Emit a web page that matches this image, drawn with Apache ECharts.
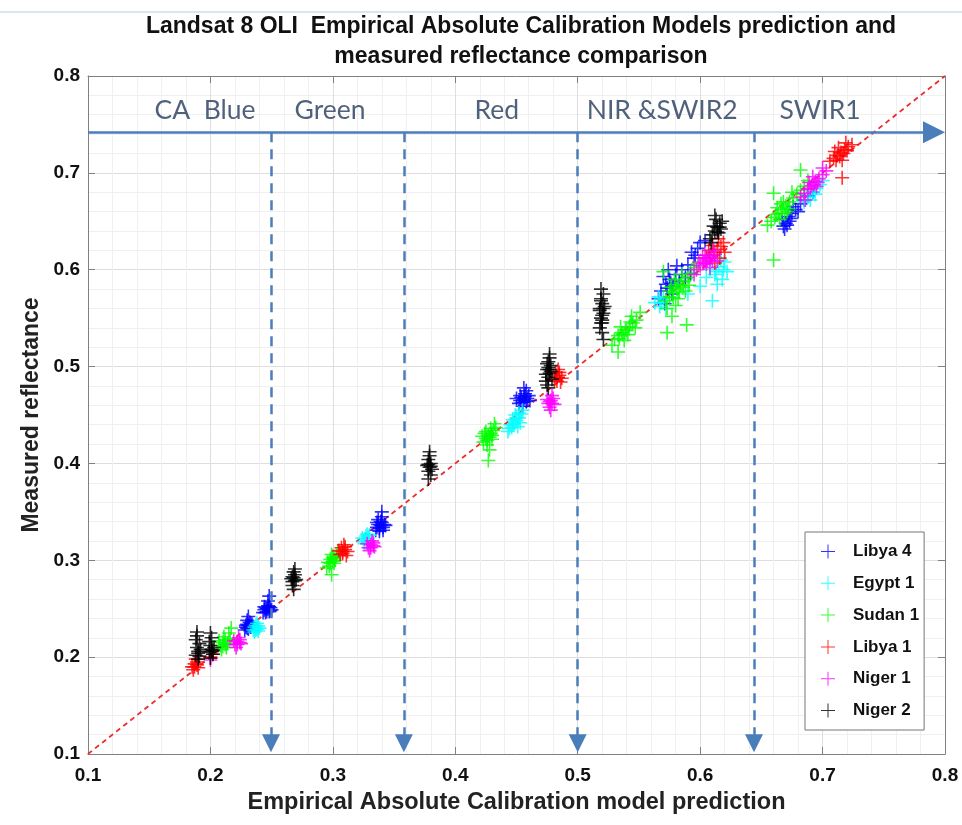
<!DOCTYPE html>
<html>
<head>
<meta charset="utf-8">
<script src="https://cdn.jsdelivr.net/npm/echarts@6/dist/echarts.min.js"></script>
<style>
html, body { margin: 0; padding: 0; background: #fff; }
#chart { width: 962px; height: 825px; }
</style>
</head>
<body>
<div id="chart"></div>
<script>
// Site names and marker colours, in drawing order
const siteNames = ['Libya 4', 'Egypt 1', 'Sudan 1', 'Libya 1', 'Niger 1', 'Niger 2'];
const siteColors = ['#0000FF', '#00FFFF', '#00FF00', '#FF0000', '#FF00FF', '#000000'];

// [model prediction, measured reflectance] pairs per site
const libya4 = [
  [0.228,0.228],[0.229,0.231],[0.230,0.234],[0.231,0.229],[0.232,0.232],[0.233,0.235],[0.230,0.230],[0.231,0.233],[0.232,0.236],[0.229,0.233],[0.233,0.231],[0.234,0.234],[0.230,0.238],[0.231,0.242],
  [0.243,0.246],[0.244,0.249],[0.245,0.251],[0.246,0.247],[0.247,0.250],[0.248,0.252],[0.249,0.248],[0.245,0.246],[0.246,0.250],[0.247,0.253],[0.248,0.247],[0.249,0.251],[0.244,0.252],[0.247,0.258],[0.248,0.263],[0.250,0.249],
  [0.335,0.331],[0.336,0.334],[0.337,0.337],[0.338,0.333],[0.339,0.336],[0.340,0.339],[0.341,0.334],[0.342,0.337],[0.336,0.339],[0.338,0.330],[0.339,0.340],[0.341,0.331],[0.343,0.336],[0.337,0.342],[0.340,0.345],[0.340,0.350],
  [0.452,0.462],[0.453,0.465],[0.454,0.468],[0.455,0.463],[0.456,0.466],[0.457,0.469],[0.458,0.464],[0.459,0.467],[0.460,0.470],[0.455,0.459],[0.457,0.472],[0.461,0.465],[0.453,0.470],[0.458,0.475],[0.456,0.478],[0.450,0.467],
  [0.568,0.578],[0.572,0.585],[0.575,0.590],[0.570,0.593],[0.578,0.583],[0.580,0.595],[0.574,0.600],[0.566,0.570],[0.583,0.588],[0.577,0.575],[0.573,0.581],[0.576,0.586],
  [0.585,0.600],[0.590,0.605],[0.595,0.612],[0.598,0.622],[0.592,0.596],[0.588,0.592],[0.600,0.628],[0.571,0.565],[0.581,0.604],[0.596,0.615],[0.593,0.618],[0.604,0.630],
  [0.667,0.652],[0.670,0.648],[0.672,0.655],[0.668,0.645],[0.675,0.658],[0.673,0.650],[0.678,0.662],[0.682,0.668],[0.685,0.672],[0.680,0.660],[0.688,0.676],[0.692,0.680],[0.669,0.642],[0.676,0.665],[0.671,0.646],[0.674,0.653]
];
const egypt1 = [
  [0.235,0.228],[0.236,0.231],[0.237,0.233],[0.238,0.229],[0.239,0.232],[0.240,0.230],[0.236,0.226],[0.238,0.235],[0.237,0.228],[0.239,0.227],
  [0.325,0.319],[0.326,0.322],[0.327,0.325],[0.328,0.320],[0.329,0.323],[0.330,0.326],[0.326,0.317],[0.328,0.327],[0.324,0.323],[0.329,0.318],
  [0.443,0.433],[0.446,0.437],[0.448,0.441],[0.450,0.444],[0.452,0.447],[0.454,0.451],[0.447,0.445],[0.451,0.438],[0.455,0.455],[0.445,0.440],
  [0.449,0.450],[0.453,0.442],[0.444,0.436],[0.447,0.440],[0.450,0.447],[0.452,0.452],
  [0.563,0.566],[0.567,0.562],[0.570,0.570],[0.566,0.572],[0.572,0.560],[0.608,0.600],[0.612,0.595],[0.615,0.603],[0.618,0.590],[0.620,0.608],
  [0.614,0.585],[0.610,0.568],[0.622,0.598],[0.605,0.592],[0.590,0.575],[0.617,0.610],[0.600,0.583],[0.613,0.598],[0.619,0.600],[0.568,0.566],
  [0.688,0.675],[0.692,0.680],[0.695,0.684],[0.698,0.688],[0.690,0.672],[0.700,0.692],[0.685,0.670],[0.694,0.678]
];
const sudan1 = [
  [0.208,0.212],[0.210,0.215],[0.212,0.218],[0.209,0.208],[0.214,0.214],[0.211,0.221],[0.215,0.225],[0.217,0.230],[0.207,0.217],[0.213,0.210],[0.216,0.219],[0.210,0.211],[0.212,0.213],
  [0.296,0.298],[0.298,0.301],[0.300,0.303],[0.297,0.294],[0.301,0.297],[0.303,0.305],[0.299,0.306],[0.295,0.292],[0.302,0.300],[0.299,0.285],[0.304,0.309],[0.298,0.297],[0.300,0.299],[0.301,0.302],
  [0.423,0.422],[0.425,0.426],[0.427,0.429],[0.429,0.431],[0.431,0.434],[0.426,0.419],[0.430,0.425],[0.433,0.437],[0.424,0.431],[0.428,0.414],[0.427,0.403],[0.432,0.441],[0.422,0.428],[0.429,0.436],
  [0.426,0.424],[0.428,0.427],[0.430,0.429],[0.425,0.433],
  [0.530,0.528],[0.533,0.532],[0.536,0.535],[0.539,0.538],[0.542,0.541],[0.545,0.545],[0.548,0.548],[0.535,0.541],[0.541,0.533],[0.528,0.522],[0.544,0.552],[0.538,0.527],[0.551,0.556],[0.533,0.515],[0.547,0.540],
  [0.534,0.529],[0.537,0.533],[0.540,0.537],[0.543,0.546],
  [0.572,0.568],[0.575,0.572],[0.578,0.576],[0.581,0.580],[0.584,0.584],[0.587,0.588],[0.590,0.592],[0.593,0.596],[0.576,0.582],[0.582,0.570],[0.588,0.578],
  [0.579,0.590],[0.585,0.595],[0.595,0.602],[0.573,0.560],[0.570,0.598],[0.573,0.535],[0.589,0.543],[0.577,0.552],[0.580,0.563],[0.591,0.584],[0.598,0.606],
  [0.578,0.571],[0.583,0.577],[0.586,0.582],[0.580,0.585],[0.575,0.578],
  [0.658,0.650],[0.661,0.654],[0.664,0.658],[0.667,0.662],[0.670,0.666],[0.673,0.670],[0.676,0.674],[0.679,0.678],[0.682,0.682],[0.685,0.686],
  [0.663,0.664],[0.669,0.658],[0.675,0.680],[0.672,0.663],[0.660,0.679],[0.682,0.703],[0.660,0.610],[0.666,0.668],[0.688,0.692],[0.655,0.646],
  [0.662,0.657],[0.665,0.652],[0.668,0.670],[0.671,0.660]
];
const libya1 = [
  [0.185,0.190],[0.187,0.193],[0.189,0.195],[0.186,0.187],[0.190,0.189],[0.188,0.198],[0.187,0.190],[0.189,0.192],[0.200,0.200],[0.202,0.203],
  [0.306,0.306],[0.308,0.309],[0.310,0.311],[0.307,0.313],[0.311,0.305],[0.309,0.316],[0.312,0.309],[0.305,0.310],[0.308,0.307],[0.310,0.314],
  [0.481,0.486],[0.483,0.489],[0.485,0.491],[0.482,0.494],[0.486,0.484],[0.484,0.497],[0.487,0.488],[0.483,0.485],[0.485,0.494],
  [0.605,0.612],[0.608,0.615],[0.611,0.618],[0.614,0.621],[0.617,0.624],[0.610,0.625],[0.616,0.612],[0.619,0.628],[0.612,0.607],[0.620,0.618],[0.607,0.620],[0.615,0.632],
  [0.706,0.712],[0.709,0.715],[0.712,0.718],[0.715,0.721],[0.718,0.724],[0.721,0.727],[0.710,0.722],[0.716,0.713],[0.719,0.731],[0.713,0.726],[0.724,0.729],[0.716,0.695],
  [0.711,0.713],[0.714,0.717],[0.717,0.720],[0.720,0.723]
];
const niger1 = [
  [0.220,0.213],[0.222,0.216],[0.224,0.218],[0.221,0.210],[0.225,0.214],[0.223,0.220],[0.219,0.217],[0.222,0.213],[0.224,0.215],[0.200,0.197],
  [0.329,0.313],[0.331,0.316],[0.333,0.318],[0.330,0.310],[0.334,0.314],[0.332,0.320],[0.328,0.317],[0.331,0.313],[0.333,0.315],
  [0.476,0.462],[0.478,0.465],[0.480,0.467],[0.477,0.458],[0.481,0.461],[0.479,0.470],[0.475,0.466],[0.478,0.455],[0.477,0.464],[0.479,0.462],
  [0.597,0.600],[0.600,0.604],[0.603,0.607],[0.606,0.610],[0.609,0.613],[0.612,0.616],[0.602,0.612],[0.608,0.602],[0.595,0.595],[0.611,0.620],[0.604,0.615],[0.599,0.608],[0.614,0.609],
  [0.605,0.606],[0.607,0.612],[0.610,0.609],
  [0.682,0.675],[0.685,0.679],[0.688,0.683],[0.691,0.687],[0.694,0.691],[0.697,0.694],[0.700,0.698],[0.703,0.702],[0.689,0.690],[0.695,0.686],[0.700,0.705],[0.686,0.672],[0.692,0.696],
  [0.690,0.684],[0.693,0.688],[0.696,0.690]
];
const niger2 = [
  [0.188,0.202],[0.190,0.206],[0.189,0.210],[0.191,0.214],[0.188,0.218],[0.190,0.198],[0.192,0.208],[0.189,0.222],[0.190,0.204],[0.191,0.201],[0.189,0.226],
  [0.199,0.205],[0.201,0.208],[0.200,0.212],[0.202,0.203],[0.199,0.216],[0.201,0.220],[0.203,0.210],[0.200,0.199],[0.201,0.206],[0.202,0.207],[0.200,0.225],
  [0.267,0.278],[0.268,0.282],[0.269,0.285],[0.266,0.281],[0.270,0.280],[0.268,0.288],[0.267,0.274],[0.269,0.291],[0.268,0.270],[0.267,0.283],[0.269,0.279],
  [0.378,0.392],[0.379,0.396],[0.380,0.400],[0.378,0.404],[0.381,0.394],[0.377,0.398],[0.379,0.408],[0.380,0.388],[0.379,0.412],[0.378,0.384],[0.380,0.397],[0.378,0.399],
  [0.474,0.485],[0.476,0.489],[0.477,0.493],[0.475,0.497],[0.478,0.501],[0.476,0.505],[0.477,0.509],[0.475,0.481],[0.478,0.495],[0.476,0.499],[0.474,0.492],[0.477,0.513],[0.479,0.487],[0.476,0.478],[0.477,0.497],[0.475,0.503],
  [0.518,0.540],[0.520,0.545],[0.519,0.550],[0.521,0.555],[0.518,0.560],[0.520,0.565],[0.519,0.570],[0.521,0.575],[0.520,0.548],[0.518,0.558],[0.522,0.562],[0.519,0.580],[0.520,0.535],[0.521,0.528],[0.519,0.568],
  [0.520,0.553],[0.521,0.560],[0.519,0.545],
  [0.608,0.632],[0.610,0.636],[0.612,0.640],[0.614,0.644],[0.616,0.648],[0.613,0.652],[0.615,0.638],[0.611,0.645],[0.617,0.642],[0.612,0.656],[0.609,0.628],[0.618,0.650],
  [0.614,0.639],[0.616,0.644]
];
const siteData = [libya4, egypt1, sudan1, libya1, niger1, niger2];

// 1:1 reference line
const oneToOne = [[0.1, 0.1], [0.8, 0.8]];

// Spectral band regions along the 1:1 line
const bandNames = ['CA  Blue', 'Green', 'Red', 'NIR &SWIR2', 'SWIR1'];
const bandLabelX = [0.1956, 0.2977, 0.434, 0.569, 0.698];
const bandLabelY = 0.764;
const bandEdges = [0.2495, 0.358, 0.5, 0.644];
const bandArrowY = 0.742;
const bandArrowBottom = 0.111;
const bandArrowStart = 0.1;
const bandArrowEnd = 0.791;

// Axis ticks
const axisTicks = ['0.1', '0.2', '0.3', '0.4', '0.5', '0.6', '0.7', '0.8'];

const PLUS = 'path://M-0.8,-7H0.8V-0.8H7V0.8H0.8V7H-0.8V0.8H-7V-0.8H-0.8Z';
const PLUS_THIN = 'path://M-0.5,-7H0.5V-0.5H7V0.5H0.5V7H-0.5V0.5H-7V-0.5H-0.5Z';
const FONT = 'Liberation Sans, Arial, sans-serif';
const tickFmt = v => axisTicks[Math.round((v - 0.1) * 10)] || '';

const chart = echarts.init(document.getElementById('chart'), null, { renderer: 'canvas' });

const scatterSeries = siteNames.map((name, i) => ({
  name: name,
  type: 'scatter',
  data: siteData[i],
  symbol: PLUS,
  symbolSize: 14,
  itemStyle: { color: siteColors[i] },
  emphasis: { disabled: true },
  z: 3,
  animation: false
}));

const axisLineStyle = { color: '#808080', width: 1 };
const gridLine = { show: true, lineStyle: { color: '#dedede', width: 1 } };
const minorGridLine = { show: true, lineStyle: { color: '#f0f0f0', width: 1 } };

chart.setOption({
  backgroundColor: '#ffffff',
  animation: false,
  title: {
    text: 'Landsat 8 OLI  Empirical Absolute Calibration Models prediction and\nmeasured reflectance comparison',
    left: 516,
    top: 7,
    textAlign: 'center',
    textStyle: { fontFamily: FONT, fontWeight: 'bold', fontSize: 23, lineHeight: 30, color: '#111' }
  },
  grid: { left: 88, right: 17, top: 76, bottom: 71, containLabel: false },
  legend: {
    data: siteNames.map(n => ({ name: n, icon: PLUS_THIN })),
    orient: 'vertical',
    left: 805,
    top: 532,
    itemWidth: 14,
    itemHeight: 14,
    itemGap: 14.8,
    padding: [11, 5, 11, 16],
    borderColor: '#777',
    borderWidth: 1,
    backgroundColor: '#ffffff',
    textStyle: { fontFamily: FONT, fontWeight: 'bold', fontSize: 17, color: '#111', padding: [0, 0, 0, 13] }
  },
  xAxis: [{
    type: 'value', min: 0.1, max: 0.8, interval: 0.1, position: 'bottom',
    name: 'Empirical Absolute Calibration model prediction',
    nameLocation: 'middle', nameGap: 37,
    nameTextStyle: { fontFamily: FONT, fontWeight: 'bold', fontSize: 23.5, color: '#222' },
    axisLine: { show: true, onZero: false, lineStyle: axisLineStyle },
    axisTick: { show: true, inside: true, length: 7, lineStyle: axisLineStyle },
    axisLabel: { formatter: tickFmt, fontFamily: FONT, fontWeight: 'bold', fontSize: 19, color: '#111', margin: 12 },
    splitLine: gridLine,
    minorTick: { show: false, splitNumber: 5 },
    minorSplitLine: minorGridLine
  }, {
    type: 'value', min: 0.1, max: 0.8, interval: 0.1, position: 'top',
    axisLine: { show: true, onZero: false, lineStyle: axisLineStyle },
    axisTick: { show: true, inside: true, length: 7, lineStyle: axisLineStyle },
    axisLabel: { show: false },
    splitLine: { show: false }
  }],
  yAxis: [{
    type: 'value', min: 0.1, max: 0.8, interval: 0.1, position: 'left',
    name: 'Measured reflectance',
    nameLocation: 'middle', nameGap: 37, nameRotate: 90,
    nameTextStyle: { fontFamily: FONT, fontWeight: 'bold', fontSize: 23, color: '#222' },
    axisLine: { show: true, onZero: false, lineStyle: axisLineStyle },
    axisTick: { show: true, inside: true, length: 7, lineStyle: axisLineStyle },
    axisLabel: { formatter: tickFmt, fontFamily: FONT, fontWeight: 'bold', fontSize: 19, color: '#111', margin: 8 },
    splitLine: gridLine,
    minorTick: { show: false, splitNumber: 5 },
    minorSplitLine: minorGridLine
  }, {
    type: 'value', min: 0.1, max: 0.8, interval: 0.1, position: 'right',
    axisLine: { show: true, onZero: false, lineStyle: axisLineStyle },
    axisTick: { show: true, inside: true, length: 7, lineStyle: axisLineStyle },
    axisLabel: { show: false },
    splitLine: { show: false }
  }],
  series: [
    {
      name: '1:1',
      type: 'line',
      data: oneToOne,
      symbol: 'none',
      lineStyle: { color: '#ee2a2a', width: 1.8, type: [5, 4] },
      silent: true,
      z: 2
    },
    ...scatterSeries,
    {
      name: 'band edges',
      type: 'line',
      data: [],
      silent: true,
      z: 5,
      markLine: {
        silent: true,
        symbol: ['none', 'triangle'],
        symbolSize: 18,
        animation: false,
        label: { show: false },
        lineStyle: { color: '#4a7ebb', width: 2.5, type: [10, 7] },
        data: bandEdges.map(x => [{ coord: [x, bandArrowY] }, { coord: [x, bandArrowBottom] }])
      }
    },
    {
      name: 'band axis',
      type: 'line',
      data: [],
      silent: true,
      z: 5,
      markLine: {
        silent: true,
        symbol: ['none', 'triangle'],
        symbolSize: 22,
        animation: false,
        label: { show: false },
        lineStyle: { color: '#4a7ebb', width: 2.5, type: 'solid' },
        data: [[{ coord: [bandArrowStart, bandArrowY] }, { coord: [bandArrowEnd, bandArrowY] }]]
      }
    },
    {
      name: 'band names',
      type: 'scatter',
      silent: true,
      symbolSize: 1,
      itemStyle: { color: 'rgba(0,0,0,0)' },
      z: 6,
      data: bandNames.map((n, i) => ({ value: [bandLabelX[i], bandLabelY], name: n })),
      label: {
        show: true,
        position: 'inside',
        formatter: p => p.name,
        fontFamily: 'Lato, Open Sans, sans-serif',
        fontSize: 26.5,
        color: '#243b5a'
      },
      labelLayout: { hideOverlap: false }
    }
  ],
  graphic: [{
    type: 'line',
    shape: { x1: 0, y1: 12, x2: 962, y2: 12 },
    style: { stroke: '#dbe4f1', lineWidth: 2 },
    silent: true
  }]
});
</script>
</body>
</html>
